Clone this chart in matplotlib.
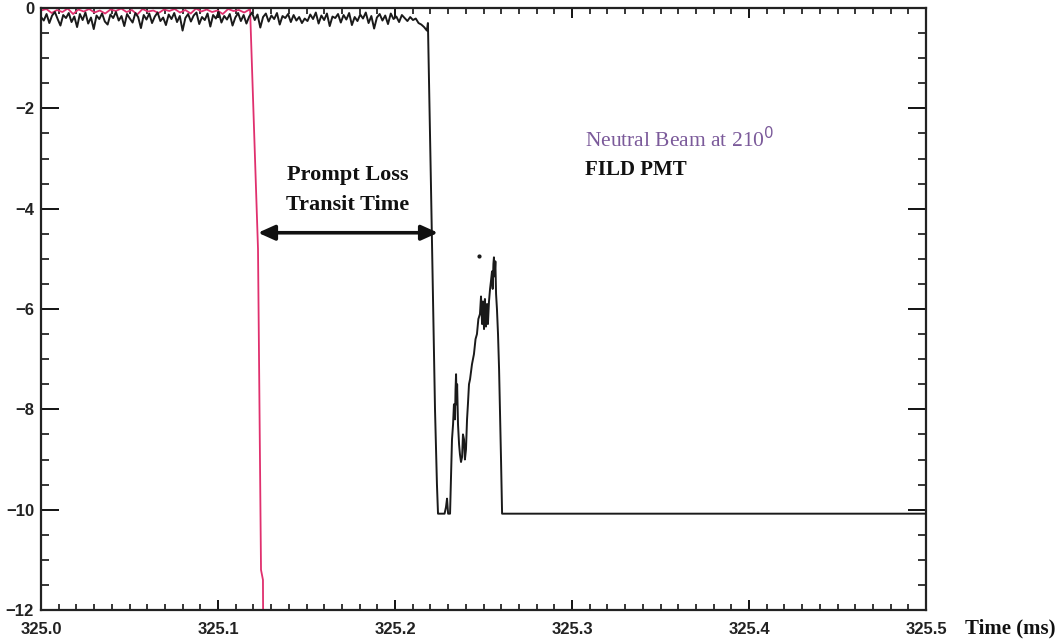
import numpy as np
import matplotlib
matplotlib.use("Agg")
import matplotlib.pyplot as plt
from matplotlib.ticker import MultipleLocator, FixedLocator

# ---- data -------------------------------------------------------------
# FILD PMT baseline before the prompt-loss signal (sampled uniformly)
pmt_baseline = [-0.18, -0.25, -0.12, -0.30, -0.15, -0.08, -0.22, -0.35, -0.14, -0.20,
                -0.10, -0.28, -0.17, -0.38, -0.12, -0.24, -0.09, -0.31, -0.19, -0.42,
                -0.15, -0.22, -0.11, -0.27, -0.33, -0.13, -0.20, -0.08, -0.25, -0.16,
                -0.36, -0.12, -0.21, -0.29, -0.10, -0.18, -0.40, -0.14, -0.23, -0.11,
                -0.30, -0.17, -0.09, -0.26, -0.19, -0.34, -0.13, -0.22, -0.10, -0.28,
                -0.16, -0.45, -0.20, -0.12, -0.27, -0.15, -0.09, -0.32, -0.18, -0.24,
                -0.11, -0.37, -0.14, -0.21, -0.08, -0.29, -0.16, -0.23, -0.12, -0.35,
                -0.19, -0.10, -0.26, -0.14, -0.31, -0.17, -0.09, -0.24, -0.13, -0.39,
                -0.18, -0.11, -0.27, -0.15, -0.22, -0.10, -0.33, -0.16, -0.20, -0.12,
                -0.28, -0.14, -0.25, -0.18, -0.30, -0.21, -0.26, -0.13, -0.22, -0.09,
                -0.31, -0.15, -0.24, -0.11, -0.36, -0.17, -0.20, -0.12, -0.29, -0.14,
                -0.23, -0.10, -0.34, -0.18, -0.26, -0.13, -0.21, -0.09, -0.30, -0.16,
                -0.41, -0.19, -0.12, -0.25, -0.15, -0.32, -0.11, -0.22, -0.17, -0.28,
                -0.14, -0.20, -0.26, -0.18, -0.24, -0.21, -0.30, -0.33, -0.38, -0.45]
pmt_baseline_t0 = 325.0
pmt_baseline_t1 = 325.2180

# FILD PMT prompt-loss event
pmt_event_t = [325.2186, 325.2192, 325.2203, 325.2215, 325.2226, 325.2237, 325.2243,
               325.2280, 325.2288, 325.2294, 325.2300, 325.2311,
               325.2316, 325.2322, 325.2328, 325.2333, 325.2339, 325.2342, 325.2345,
               325.2348, 325.2351, 325.2356, 325.2362, 325.2367, 325.2373, 325.2379,
               325.2384, 325.2390, 325.2395, 325.2401, 325.2407, 325.2412, 325.2418,
               325.2424, 325.2435, 325.2446, 325.2455, 325.2463, 325.2471, 325.2480,
               325.2486, 325.2492, 325.2497, 325.2503, 325.2508, 325.2514, 325.2520,
               325.2525, 325.2531, 325.2537, 325.2542, 325.2548, 325.2552, 325.2556,
               325.2559, 325.2563, 325.2567, 325.2571, 325.2576, 325.2582, 325.2588,
               325.2593, 325.2599, 325.2605, 325.5000]
pmt_event_v = [-0.30, -1.40, -3.50, -5.80, -8.00, -9.50, -10.08,
               -10.08, -9.95, -9.78, -10.08, -10.08,
               -9.40, -8.60, -8.30, -7.90, -8.20, -7.60, -7.30,
               -7.90, -7.50, -8.30, -8.70, -8.90, -9.05, -8.95,
               -8.50, -8.60, -9.00, -8.80, -8.20, -7.90, -7.50,
               -7.40, -7.10, -6.90, -6.60, -6.50, -6.20, -6.10,
               -5.75, -6.30, -5.85, -6.40, -5.80, -6.35, -5.90,
               -6.30, -5.85, -5.60, -5.45, -5.25, -5.60, -5.10,
               -4.97, -5.35, -5.05, -5.70, -6.00, -6.50, -7.20,
               -8.00, -9.00, -10.08, -10.08]

# Neutral beam trace (210 deg)
nb_baseline = [-0.05, -0.02, -0.10, -0.04, -0.08, -0.01, -0.12, -0.03, -0.07, -0.02,
               -0.09, -0.05, -0.11, -0.03, -0.06, -0.01, -0.08, -0.04, -0.13, -0.02,
               -0.07, -0.05, -0.10, -0.03, -0.06, -0.02, -0.09, -0.04, -0.11, -0.01,
               -0.07, -0.03, -0.08, -0.05, -0.12, -0.02, -0.06, -0.04, -0.09, -0.03]
nb_baseline_t0 = 325.0
nb_baseline_t1 = 325.1178
nb_step_t = [325.1181, 325.1226, 325.1243, 325.1254, 325.1256]
nb_step_v = [0.0, -4.8, -11.2, -11.4, -13.0]

# isolated sample near the pulse peak
stray_t = [325.2475]
stray_v = [-4.94]

# transit-time arrow endpoints
arrow_t = [325.1226, 325.2243]
arrow_v = -4.48

x_ticks = [325.0, 325.1, 325.2, 325.3, 325.4, 325.5]
x_tick_labels = ["325.0", "325.1", "325.2", "325.3", "325.4", "325.5"]
y_ticks = [0, -2, -4, -6, -8, -10, -12]
y_tick_labels = ["0", "\u22122", "\u22124", "\u22126", "\u22128", "\u221210", "\u221212"]

# ---- figure -----------------------------------------------------------
fig = plt.figure(figsize=(10.61, 6.41), dpi=100)
ax = fig.add_axes([41 / 1061, 1 - 610 / 641, 885 / 1061, 602 / 641])

pmt_t = np.concatenate([np.linspace(pmt_baseline_t0, pmt_baseline_t1, len(pmt_baseline)),
                        pmt_event_t])
pmt_v = np.concatenate([pmt_baseline, pmt_event_v])
nb_t = np.concatenate([np.linspace(nb_baseline_t0, nb_baseline_t1, len(nb_baseline)),
                       nb_step_t])
nb_v = np.concatenate([nb_baseline, nb_step_v])

ax.plot(nb_t, nb_v, color="#e0306e", lw=1.3, zorder=2)
ax.plot(pmt_t, pmt_v, color="#1a1a1a", lw=1.4, zorder=3)
ax.plot(stray_t, stray_v, "o", color="#1a1a1a", ms=2, zorder=3)

ax.annotate("", xy=(arrow_t[0], arrow_v), xytext=(arrow_t[1], arrow_v),
            arrowprops=dict(arrowstyle="<|-|>,head_length=1.0,head_width=0.45",
                            lw=2.6, color="#111111", shrinkA=0, shrinkB=0),
            zorder=4)

serif = ["Liberation Serif", "DejaVu Serif"]
ax.text(325.1734, -3.33, "Prompt Loss", ha="center", va="center",
        family=serif, weight="bold", fontsize=16, color="#111111")
ax.text(325.1734, -3.93, "Transit Time", ha="center", va="center",
        family=serif, weight="bold", fontsize=16, color="#111111")
ax.text(325.3073, -2.63, "Neutral Beam at 210$^{0}$", ha="left", va="center",
        family=serif, fontsize=15.5, color="#7b5a9a")
ax.text(325.3073, -3.23, "FILD PMT", ha="left", va="center",
        family=serif, weight="bold", fontsize=15, color="#111111")

ax.set_xlim(325.0, 325.5)
ax.set_ylim(-12, 0)

ax.xaxis.set_major_locator(FixedLocator(x_ticks))
ax.set_xticklabels(x_tick_labels)
ax.xaxis.set_minor_locator(MultipleLocator(0.01))
ax.yaxis.set_major_locator(FixedLocator(y_ticks))
ax.set_yticklabels(y_tick_labels)
ax.yaxis.set_minor_locator(MultipleLocator(0.5))

tick_font = ["Liberation Sans", "DejaVu Sans"]
for lab in ax.get_xticklabels() + ax.get_yticklabels():
    lab.set_family(tick_font)
    lab.set_fontweight("bold")
    lab.set_fontsize(12)
    lab.set_color("#222222")

ax.tick_params(axis="x", which="major", direction="in", length=7, width=1.3,
               top=True, bottom=True, pad=9)
ax.tick_params(axis="x", which="minor", direction="in", length=4, width=1.1,
               top=True, bottom=True)
ax.tick_params(axis="y", which="major", direction="in", length=13, width=1.3,
               left=True, right=True, pad=5)
ax.tick_params(axis="y", which="minor", direction="in", length=6, width=1.1,
               left=True, right=True)
for sp in ax.spines.values():
    sp.set_linewidth(1.6)
    sp.set_color("#222222")

fig.text(1010 / 1061, 1 - 628 / 641, "Time (ms)", ha="center", va="center",
         family=serif, weight="bold", fontsize=15, color="#111111")

fig.savefig("out.png", dpi=100)
